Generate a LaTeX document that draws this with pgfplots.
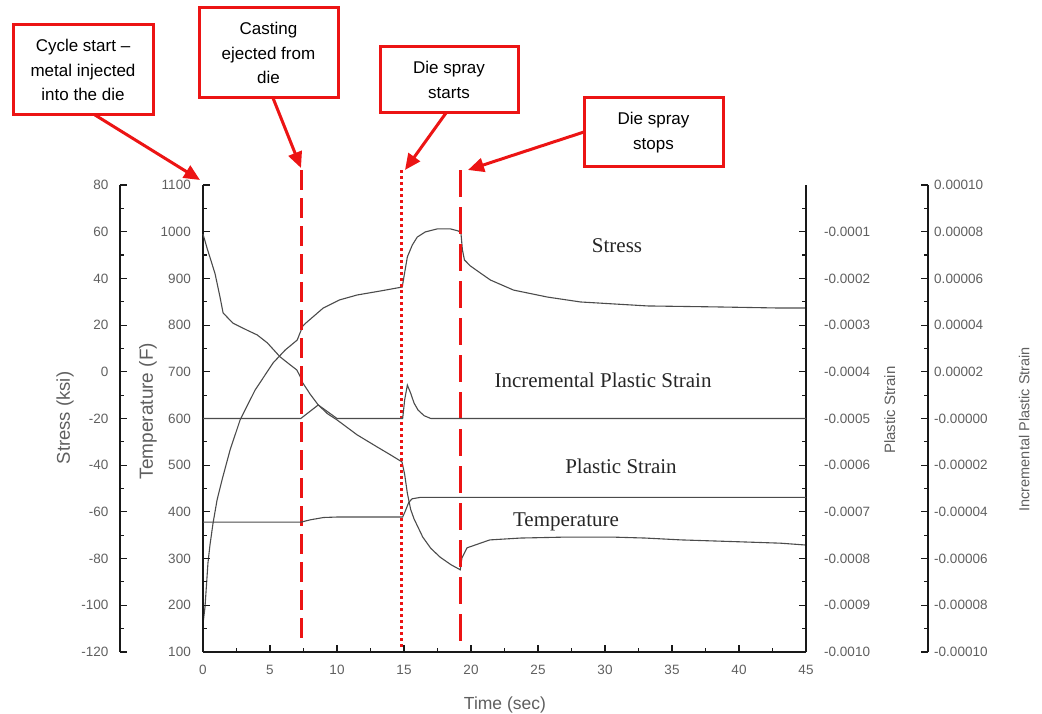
\documentclass[border=0pt]{standalone}
\usepackage{fontspec}
\setmainfont{Liberation Sans}
\newfontfamily\serifcurve{Liberation Serif}
\usepackage{pgfplots}
\usepackage{pgfplotstable}
\pgfplotsset{compat=1.18}
\usetikzlibrary{arrows.meta}
\definecolor{annred}{RGB}{236,20,20}
\definecolor{curvegray}{RGB}{75,75,75}
\definecolor{labgray}{RGB}{95,95,95}
\definecolor{axisblack}{RGB}{25,25,25}

\pgfplotstableread{
t T
0.00 995
0.30 965
0.52 945
0.90 910
1.27 860
1.50 826
2.24 804
3.30 789
4.04 779
4.80 762
5.75 732
6.50 715
7.00 704
7.25 690
7.45 676
8.00 652
8.60 629
9.30 610
10.00 597
11.50 565
13.00 539
14.00 522
14.85 507
15.05 480
15.25 440
15.50 405
15.75 385
16.40 346
17.00 322
17.70 303
18.50 287
19.20 276
19.32 301
19.70 323
20.70 333
21.40 340
23.70 344
27.00 346
30.60 346
33.00 344
35.70 340
40.00 336
43.10 333
45.00 329
}\temptab

\pgfplotstableread{
t s
0.00 -108
0.15 -100.7
0.37 -81.9
0.52 -74.2
0.75 -64.8
1.05 -54.9
1.42 -46.3
2.02 -33.5
2.77 -20.6
3.89 -7.8
5.23 3.8
6.13 9.3
7.03 13.6
7.30 17.5
7.45 19.6
7.70 21.0
8.97 27.3
10.20 30.8
11.51 32.9
13.23 34.6
14.87 36.3
15.02 41.5
15.25 49.2
15.62 54.3
15.99 57.7
16.59 59.9
17.49 61.2
18.46 61.2
19.06 60.3
19.25 59.4
19.36 52.2
19.51 47.9
19.96 45.3
20.70 42.3
21.45 39.3
23.17 35.0
25.71 32.0
28.18 29.9
33.18 28.2
38.12 27.8
43.12 27.3
45.00 27.3
}\stresstab

\pgfplotstableread{
t ps
0 -0.000722
7.3 -0.000722
8.0 -0.000717
9.0 -0.000712
10.0 -0.000711
14.9 -0.000711
15.1 -0.000698
15.35 -0.000680
15.6 -0.000672
16.2 -0.000669
45 -0.000669
}\plastictab

\pgfplotstableread{
t inc
0 0
7.3 0
8.6 0.0000058
10.0 0
14.9 0
15.05 0.000008
15.25 0.0000143
15.5 0.0000108
15.75 0.0000066
16.05 0.0000036
16.5 0.0000012
17.0 0
45 0
}\inctab

\pgfplotsset{
  base/.style={scale only axis, height=467pt, anchor=south west, clip=false,
    tick align=inside, major tick length=7pt, minor tick length=4pt,
    every tick/.style={axisblack, line width=1.1pt},
    axis line style={axisblack, line width=1.5pt},
    tick label style={font=\fontsize{13.5}{13.5}\selectfont, text=labgray},
    /pgf/number format/assume math mode=true,
    /pgf/number format/1000 sep={},
    scaled y ticks=false, scaled x ticks=false,
  },
  curve/.style={curvegray, line width=1.1pt, no marks},
  ylab/.style n args={3}{every axis y label/.style={at={(axis description cs:#1,#2)}, anchor=center, rotate=90,
     font=\fontsize{#3}{#3}\selectfont, text=labgray}},
}

\begin{document}
\begin{tikzpicture}[x=1pt,y=1pt]
\useasboundingbox (0,0) rectangle (1042,714);

% Stress axis
\begin{axis}[base, at={(120pt,62pt)}, width=686pt, xmin=-6.194, xmax=45, ymin=-120, ymax=80,
  hide x axis, axis y line*=left,
  ytick={-120,-100,-80,-60,-40,-20,0,20,40,60,80}, minor y tick num=1,
  yticklabel style={xshift=-8pt},
  ylabel={Stress (ksi)}, ylab={-0.0802}{0.501}{18.5}]
\addplot[curve] table[x=t,y=s]{\stresstab};
\end{axis}

% Temperature axis
\begin{axis}[base, at={(203pt,62pt)}, width=603pt, xmin=0, xmax=45, ymin=100, ymax=1100,
  axis x line*=bottom, axis y line*=left,
  xtick={0,5,10,15,20,25,30,35,40,45}, minor x tick num=1,
  ytick={100,200,300,400,500,600,700,800,900,1000,1100}, minor y tick num=1,
  yticklabel style={xshift=-8.7pt}, xticklabel style={yshift=-10pt},
  y axis line style={line width=1.1pt},
  xlabel={Time (sec)}, ylabel={Temperature (F)},
  every axis x label/.style={at={(axis description cs:0.5008,-0.1135)}, anchor=center,
     font=\fontsize{17.5}{17.5}\selectfont, text=labgray},
  ylab={-0.0912}{0.516}{19}]
\addplot[curve] table[x=t,y=T]{\temptab};
\draw[annred, line width=3pt, dash pattern=on 20pt off 8pt] (axis cs:7.32,1132) -- (axis cs:7.32,115);
\draw[annred, line width=3pt, dash pattern=on 3pt off 3pt] (axis cs:14.8,1132) -- (axis cs:14.8,105);
\draw[annred, line width=3pt, dash pattern=on 27pt off 10pt] (axis cs:19.25,1132) -- (axis cs:19.25,115);
\end{axis}

% Plastic strain axis
\begin{axis}[base, at={(203pt,62pt)}, width=603pt, xmin=0, xmax=45, ymin=-0.001, ymax=0,
  hide x axis, axis y line*=right,
  ytick={-0.0010,-0.0009,-0.0008,-0.0007,-0.0006,-0.0005,-0.0004,-0.0003,-0.0002,-0.0001},
  yticklabels={-0.0010,-0.0009,-0.0008,-0.0007,-0.0006,-0.0005,-0.0004,-0.0003,-0.0002,-0.0001},
  minor ytick={-0.00095,-0.00085,-0.00075,-0.00065,-0.00055,-0.00045,-0.00035,-0.00025,-0.00015,-0.00005},
  yticklabel style={xshift=14.7pt, anchor=west},
  ylabel={Plastic Strain}, ylab={1.139}{0.518}{15}]
\addplot[curve] table[x=t,y=ps]{\plastictab};
\end{axis}

% Incremental plastic strain axis
\begin{axis}[base, at={(203pt,62pt)}, width=725pt, xmin=0, xmax=54.104, ymin=-0.0001, ymax=0.0001,
  hide x axis, axis y line*=right,
  ytick={-0.0001,-0.00008,-0.00006,-0.00004,-0.00002,0,0.00002,0.00004,0.00006,0.00008,0.0001},
  yticklabels={-0.00010,-0.00008,-0.00006,-0.00004,-0.00002,-0.00000,0.00002,0.00004,0.00006,0.00008,0.00010},
  minor ytick={-0.00009,-0.00007,-0.00005,-0.00003,-0.00001,0.00001,0.00003,0.00005,0.00007,0.00009},
  yticklabel style={xshift=2.7pt, anchor=west},
  ylabel={Incremental Plastic Strain}, ylab={1.1325}{0.477}{14.5}]
\addplot[curve] table[x=t,y=inc]{\inctab};
\end{axis}

% curve labels
\begin{scope}[every node/.style={font=\serifcurve\fontsize{21}{21}\selectfont, text=black!85}]
\node at (617,468) {Stress};
\node at (603,334) {Incremental Plastic Strain};
\node at (621,248) {Plastic Strain};
\node at (566,192) {Temperature};
\end{scope}

% annotations
\begin{scope}[box/.style={draw=annred, line width=3pt, fill=white, align=center,
    font=\fontsize{17}{24.5}\selectfont, inner sep=0pt, text=black},
  arr/.style={annred, line width=3pt, -{Triangle[length=16pt,width=14pt]}}]
\node[box, minimum width=140pt, minimum height=90pt] at (83,644) {Cycle start –\\metal injected\\into the die};
\node[box, minimum width=139pt, minimum height=90pt] at (268.5,661) {Casting\\ejected from\\die};
\node[box, minimum width=138pt, minimum height=66pt] at (449,634) {Die spray\\starts};
\node[box, minimum width=139pt, minimum height=69pt] at (653.5,581.5) {Die spray\\stops};
\draw[arr] (95,599) -- (200,534);
\draw[arr] (273,616) -- (301,546);
\draw[arr] (446,601) -- (405,544);
\draw[arr] (584,582) -- (468,544);
\end{scope}
\end{tikzpicture}
\end{document}
